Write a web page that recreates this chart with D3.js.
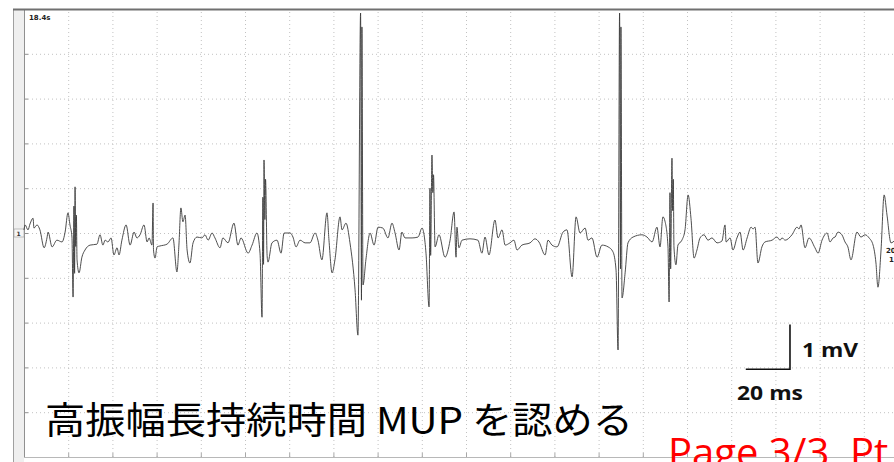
<!DOCTYPE html>
<html>
<head>
<meta charset="utf-8">
<script src="https://cdn.jsdelivr.net/npm/d3@7"></script>
<style>
  html, body { margin: 0; padding: 0; background: #fff; }
  svg { display: block; }
</style>
</head>
<body>
<svg id="chart" width="894" height="462"></svg>
<script>
// EMG trace (ms, mV)
const timeMs = [
  0, 0.5, 1.8, 2.7, 4.1, 4.5, 5.9, 7.2, 9.1, 10.4, 10.9, 12.7, 14.9, 17.2, 18.6, 19.9, 20.8, 21.7,
  22.2, 22.6, 22.9, 23.1, 23.4, 23.7, 24.0, 24.9, 26.2, 27.6, 29.9, 33.0, 34.4, 35.7, 36.7, 38.0,
  39.4, 40.7, 42.1, 43.0, 44.3, 46.2, 48.0, 49.8, 51.1, 52.5, 54.3, 55.7, 56.6, 57.9, 58.4, 58.6,
  59.3, 60.2, 61.5, 64.7, 67.4, 69.2, 70.1, 71.0, 71.9, 72.9, 73.8, 75.1, 76.5, 78.3, 80.5, 81.9,
  83.3, 85.1, 86.4, 88.7, 90.0, 92.3, 95.0, 96.8, 98.2, 101.4, 103.2, 105.4, 106.8,
  107.7, 108.1, 108.4, 108.6, 109.0, 109.3, 110.0, 110.4, 112.2, 114.5, 116.3, 117.7, 120.4, 121.7,
  123.1, 124.9, 127.2, 129.4, 131.7, 133.0, 134.8, 137.1, 138.0, 139.4, 140.7, 143.0, 143.9, 145.7,
  147.5, 149.8, 151.1, 152.3, 152.7, 152.9, 153.4, 154.7, 156.6, 158.4, 160.2, 162.4, 164.7, 166.5,
  167.9, 169.7, 171.0, 172.4, 175.6, 178.3, 180.1, 181.9, 183.3, 183.7, 184.0, 184.6, 185.0, 185.3,
  186.0, 187.8, 190.5, 192.8, 194.6, 195.5, 195.9, 196.8, 198.2, 201.8, 205.4, 207.2, 208.6, 210.4,
  213.1, 214.5, 216.3, 217.7, 219.9, 221.7, 223.1, 225.3, 229.0, 231.2, 233.0, 235.8, 237.1, 238.9,
  241.2, 243.9, 245.7, 248.0, 249.8, 251.6, 253.9, 255.2, 257.0, 259.3, 261.5, 264.3, 266.5, 267.9,
  268.8, 269.5, 269.9, 270.1, 270.6, 272.0, 273.3, 275.6, 279.6, 281.9, 284.2, 286.4, 287.8, 289.1,
  290.1, 291.4, 291.9, 292.3, 292.6, 293.2, 293.5, 293.8, 294.1, 295.0, 295.9, 297.7, 299.1, 300.5,
  301.8, 303.2, 304.5, 305.9, 307.7, 309.5, 311.3, 313.6, 315.8, 317.2, 317.7, 319.5, 320.8, 322.6,
  324.0, 325.4, 327.2, 329.0, 329.9, 330.8, 332.1, 333.9, 335.3, 338.5, 340.7, 342.1, 343.0, 344.4,
  347.5, 349.8, 350.7, 351.6, 353.4, 355.2, 357.9, 359.3, 361.1, 363.4, 364.7, 366.1, 367.0, 368.3,
  370.1, 371.5, 372.8, 374.2, 376.9, 378.7, 380.6, 382.4, 384.2, 385.5, 386.4, 387.8, 389.2, 390.5,
  392.3, 394.1
];
const ampMv = [
  0.07, 0.18, 0.07, 0.20, 0.33, 0.11, 0.18, 0.07, -0.33, -0.11, 0.02, -0.31, -0.16, -0.20, 0.02, 0.45, 0.18, -0.09,
  -1.43, 0.60, -0.90, 1.03, -0.30, 0.40, -0.60, -0.89, -0.54, -0.38, -0.27, -0.25, -0.04, -0.27, -0.16, -0.20,
  -0.11, -0.49, -0.33, -0.49, -0.16, 0.18, -0.27, 0.02, -0.11, -0.04, 0.18, -0.20, -0.11, -0.27, 0.67, -0.38,
  -0.56, -0.31, -0.29, -0.25, -0.11, -0.87, -0.27, 0.56, 0.25, 0.40, -0.38, -0.67, -0.22, -0.09, -0.11, -0.04,
  -0.16, 0.00, -0.11, -0.33, -0.11, -0.22, 0.22, -0.27, -0.11, -0.45, -0.27, 0.00, -0.45,
  -1.88, 0.80, -0.70, 1.63, 0.30, 1.20, -0.50, -0.65, -0.22, -0.16, -0.45, 0.00, 0.00, -0.09,
  -0.31, -0.16, -0.22, -0.22, 0.00, -0.16, -0.60, 0.45, -0.16, -0.89, -0.60, 0.36, 0.07, 0.22,
  -0.22, -1.27, -2.28, 4.91, -1.50, 4.60, -1.16, -0.60, 0.00, -0.27, 0.13, 0.11, -0.11, 0.22,
  0.00, -0.38, 0.02, -0.11, -0.11, -0.09, 0.11, -0.45, -1.65, 1.00, -0.50, 1.74, 0.90, 1.30,
  -0.31, -0.04, -0.54, -0.16, 0.47, -0.54, 0.13, -0.33, -0.16, -0.13, -0.16, -0.45, -0.09, -0.49,
  0.29, -0.11, 0.07, -0.27, -0.22, -0.16, -0.38, -0.27, -0.22, -0.13, -0.20, -0.49, -0.16, -0.27,
  -0.31, 0.02, 0.07, -0.98, 0.36, 0.00, 0.11, -0.16, -0.11, -0.54, -0.27, -0.31, -0.42, -0.83,
  -2.61, 4.91, -0.80, 4.60, -1.45, -0.89, -0.22, -0.09, -0.04, -0.09, -0.20, 0.13, -0.31, 0.36,
  0.25, -0.31, -1.54, 0.90, -0.80, 1.67, 0.50, 1.20, -0.31, -0.71, -0.27, -0.16, 0.07, 0.85,
  0.33, -0.56, -0.38, -0.11, -0.04, -0.16, -0.11, -0.22, -0.18, 0.18, -0.20, -0.11, -0.38, -0.11,
  0.02, -0.38, -0.11, 0.13, 0.09, 0.13, -0.67, -0.31, -0.20, -0.16, -0.09, -0.16, -0.11, -0.16,
  -0.04, 0.13, 0.09, 0.18, -0.33, -0.11, -0.33, -0.45, -0.16, 0.00, -0.20, -0.11, -0.09, 0.02,
  -0.04, -0.20, -0.31, -0.60, 0.02, -0.09, -0.04, -0.11, -0.27, -0.67, -1.21, -0.38, 0.85, 0.40,
  -0.22, -0.16
];

const gridMs = d3.range(0, 401, 20);     // 20 ms per division
const gridMv = d3.range(-5, 6, 1);       // 1 mV per division
const sweepLabel = "18.4s";
const channelLabel = "1";
const scaleBarMs = 20;
const scaleBarMv = 1;
const caption = "高振幅長持続時間 MUP を認める";
const pageLabel = "Page 3/3  Pt";

const svg = d3.select("#chart");
const x = d3.scaleLinear().domain([0, 400]).range([24, 908]);
const y = d3.scaleLinear().domain([-5, 5]).range([457, 9]);

// left margin band
svg.append("rect")
    .attr("x", 13).attr("y", 9).attr("width", 11).attr("height", 453)
    .attr("fill", "#efefef");
svg.append("line")
    .attr("x1", 13.5).attr("x2", 13.5).attr("y1", 9).attr("y2", 462)
    .attr("stroke", "#a0a0a0").attr("stroke-width", 1);

// dotted grid via axes
const gx = svg.append("g")
    .attr("transform", `translate(0,${y(-5)})`)
    .call(d3.axisBottom(x).tickValues(gridMs).tickSize(-(y(-5) - y(5))).tickFormat(""));
const gy = svg.append("g")
    .attr("transform", `translate(${x(0)},0)`)
    .call(d3.axisLeft(y).tickValues(gridMv).tickSize(-(x(400) - x(0))).tickFormat(""));
[gx, gy].forEach(g => {
    g.select(".domain").remove();
    g.selectAll(".tick line")
        .attr("stroke", "#c2c2c2")
        .attr("stroke-width", 1)
        .attr("stroke-dasharray", "1,3");
});

// frame
svg.append("line")
    .attr("x1", 24.5).attr("x2", 24.5).attr("y1", 9).attr("y2", 458)
    .attr("stroke", "#909090").attr("stroke-width", 1);
svg.append("line")
    .attr("x1", 13).attr("x2", 894).attr("y1", 9.5).attr("y2", 9.5)
    .attr("stroke", "#707070").attr("stroke-width", 2);
svg.append("line")
    .attr("x1", 24).attr("x2", 894).attr("y1", 457.5).attr("y2", 457.5)
    .attr("stroke", "#b8b8b8").attr("stroke-width", 1);

// small ticks on left edge and bottom edge
svg.append("g").selectAll("line")
    .data(gridMv.slice(1, -1))
    .join("line")
    .attr("x1", 24).attr("x2", 28)
    .attr("y1", d => y(d) + 0.5).attr("y2", d => y(d) + 0.5)
    .attr("stroke", "#909090");
svg.append("g").selectAll("line")
    .data(gridMs.slice(1))
    .join("line")
    .attr("x1", d => x(d) + 0.5).attr("x2", d => x(d) + 0.5)
    .attr("y1", 453).attr("y2", 457)
    .attr("stroke", "#a8a8a8");

// channel marker at zero level
svg.append("rect")
    .attr("x", 14).attr("y", y(0) - 4).attr("width", 10).attr("height", 8)
    .attr("fill", "#f6f6f6").attr("stroke", "#9a9a9a").attr("stroke-width", 0.6);
svg.append("text")
    .attr("x", 18.5).attr("y", y(0) + 2.5)
    .attr("text-anchor", "middle")
    .style("font", "bold 6px 'DejaVu Sans'")
    .attr("fill", "#333")
    .text(channelLabel);

svg.append("text")
    .attr("x", 29).attr("y", 20)
    .style("font", "bold 7px 'DejaVu Sans'")
    .attr("fill", "#222")
    .text(sweepLabel);

// trace
const points = timeMs.map((t, i) => [t, ampMv[i]]);
const line = d3.line()
    .x(d => x(d[0]))
    .y(d => y(d[1]))
    .curve(d3.curveMonotoneX);
svg.append("path")
    .datum(points)
    .attr("d", line)
    .attr("fill", "none")
    .attr("stroke", "#3a3a3a")
    .attr("stroke-width", 0.9)
    .attr("stroke-linejoin", "round");

// sweep label at the right edge
svg.append("text")
    .attr("x", 886).attr("y", 253)
    .style("font", "bold 7px 'DejaVu Sans'")
    .attr("fill", "#222")
    .text("20");
svg.append("text")
    .attr("x", 889).attr("y", 262)
    .style("font", "bold 7px 'DejaVu Sans'")
    .attr("fill", "#222")
    .text("1");

// scale bar
const barT = 346.6, barV = -3.04;
svg.append("path")
    .attr("d", `M${x(barT - scaleBarMs)},${y(barV)}H${x(barT)}V${y(barV + scaleBarMv)}`)
    .attr("fill", "none")
    .attr("stroke", "#111")
    .attr("stroke-width", 1.6);
svg.append("text")
    .attr("x", 802).attr("y", 357)
    .attr("textLength", 56).attr("lengthAdjust", "spacingAndGlyphs")
    .style("font", "bold 20px 'Open Sans'")
    .attr("fill", "#111")
    .text(`${scaleBarMv} mV`);
svg.append("text")
    .attr("x", 737).attr("y", 400)
    .attr("textLength", 66).attr("lengthAdjust", "spacingAndGlyphs")
    .style("font", "bold 20px 'Open Sans'")
    .attr("fill", "#111")
    .text(`${scaleBarMs} ms`);

// captions
svg.append("text")
    .attr("x", 45).attr("y", 434)
    .attr("textLength", 588).attr("lengthAdjust", "spacingAndGlyphs")
    .style("font", "400 37px 'Noto Sans CJK JP'")
    .attr("fill", "#000")
    .text(caption);
svg.append("text")
    .attr("x", 668).attr("y", 467)
    .style("font", "40px 'Open Sans'")
    .style("white-space", "pre")
    .attr("fill", "#ff0000")
    .text(pageLabel);
</script>
</body>
</html>
